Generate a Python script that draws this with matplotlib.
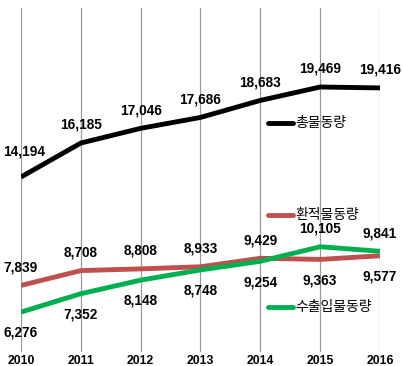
import matplotlib.pyplot as plt

# data
years = [2010, 2011, 2012, 2013, 2014, 2015, 2016]
total = [14194, 16185, 17046, 17686, 18683, 19469, 19416]
transship = [7839, 8708, 8808, 8933, 9429, 9363, 9577]
trade = [6276, 7352, 8148, 8748, 9254, 10105, 9841]

# which labels go above (+1) or below (-1) the point
transship_side = [1, 1, 1, 1, 1, -1, -1]
trade_side = [-1, -1, -1, -1, -1, 1, 1]

num_font = 'Liberation Sans'
kr_font = ['Noto Sans CJK KR', 'DejaVu Sans']

fig = plt.figure(figsize=(4.03, 3.66), dpi=100)
ax = fig.add_axes([21 / 403, 14 / 366, 359 / 403, 344 / 366])

ax.plot(years, total, color='black', lw=3.5, solid_capstyle='butt')
ax.plot(years, transship, color='#C0504D', lw=3.5, solid_capstyle='butt')
ax.plot(years, trade, color='#00B050', lw=3.5, solid_capstyle='butt')

ax.set_xlim(2010, 2016)
ax.set_ylim(3936, 24100)


def label(x, y, side, dx=0, dy=None):
    if dy is None:
        dy = 13 if side > 0 else -15
    ax.annotate(f'{y:,}', (x, y), xytext=(dx, dy), textcoords='offset points',
                ha='center', va='center', fontsize=9.8, fontweight='bold',
                family=num_font, annotation_clip=False)


for i, (x, y) in enumerate(zip(years, total)):
    if i == 0:
        label(x, y, 1, dx=2.5, dy=18)
    else:
        label(x, y, 1)
for x, y, s in zip(years, transship, transship_side):
    label(x, y, s)
for x, y, s in zip(years, trade, trade_side):
    label(x, y, s)

# inline legend entries
legend_items = [('총물동량', 'black', 17360), ('환적물동량', '#C0504D', 11970), ('수출입물동량', '#00B050', 6570)]
x0, x1 = 2014.12, 2014.55
for name, col, yk in legend_items:
    ax.plot([x0, x1], [yk, yk], color=col, lw=3.5, solid_capstyle='round')
    ax.text(x1 + 0.03, yk, name, fontsize=10, va='center', ha='left',
            family=kr_font)

ax.set_xticks(years)
ax.set_xticklabels([str(y) for y in years], fontsize=8.8, fontweight='bold', family=num_font)
ax.tick_params(axis='x', length=0, pad=2)
ax.set_yticks([])
ax.grid(axis='x', color='#999999', lw=0.9)
ax.set_axisbelow(True)
for sp in ax.spines.values():
    sp.set_visible(False)

fig.savefig('out.png', dpi=100)
